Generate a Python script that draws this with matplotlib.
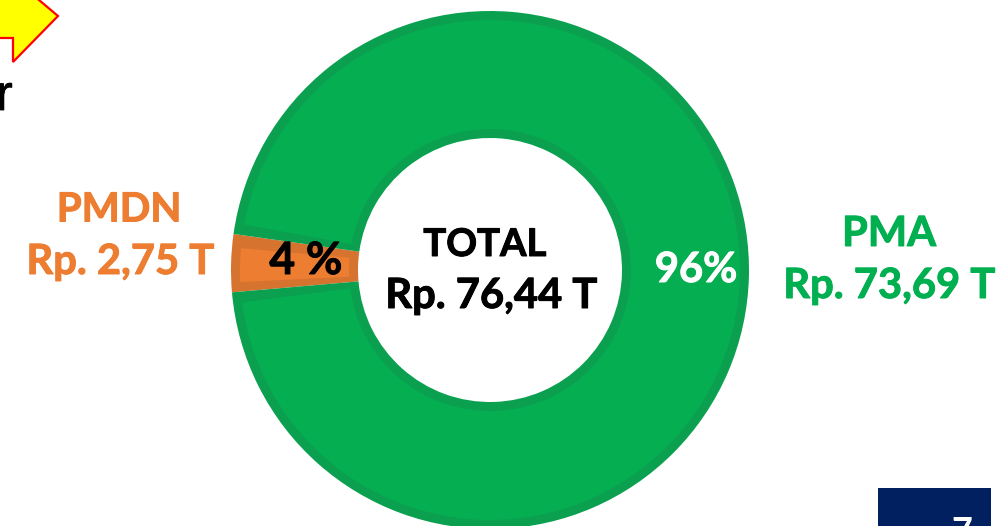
import matplotlib
matplotlib.use('Agg')
import matplotlib.pyplot as plt
import matplotlib.patches as patches
import matplotlib.patheffects as pe

# values in Rp trillion
categories = ['PMDN', 'PMA']
values = [2.75, 73.69]
shares = ['4 %', '96%']
amounts = ['Rp. 2,75 T', 'Rp. 73,69 T']
total_lines = ['TOTAL', 'Rp. 76,44 T']

W, H = 999, 526
ORANGE = '#ED7D31'
GREEN = '#00B050'
fam = ['Lato', 'DejaVu Sans']


def py(y):
    # reference pixels are measured from the top
    return H - y


def label(x, y, s, size, color):
    # thin stroke to get the heavier look of the original font
    ax.text(x, py(y), s, fontsize=size, family=fam, weight='bold', color=color, ha='center', va='center',
            path_effects=[pe.withStroke(linewidth=0.7, foreground=color)])


fig = plt.figure(figsize=(W / 100, H / 100), dpi=100)
ax = fig.add_axes([0, 0, 1, 1])

cx, cy, r_out, r_in = 490, py(270), 259, 132
start = 172

# darker base ring = the bevel edge
ax.pie(values, colors=['#D5732F', '#0AA04F'], startangle=start, center=(cx, cy),
       radius=r_out, wedgeprops=dict(width=r_out - r_in, linewidth=0), frame=True)

# lighter faces sitting inside the base ring
a1 = start + 360 * values[0] / sum(values)
bevel = 9
ax.add_patch(patches.Wedge((cx, cy), r_out - bevel, start + 3, a1 - 2.2, width=r_out - r_in - 2 * bevel,
                           fc=ORANGE, lw=0))
ax.add_patch(patches.Wedge((cx, cy), r_out - bevel, a1 + 2.5, start + 360 - 2.5,
                           width=r_out - r_in - 2 * bevel, fc='#05AE50', lw=0))

# arrow callout, cut off by the top left corner
ax.add_patch(patches.Polygon([(-5, py(-5)), (33, py(-5)), (58, py(16)), (13, py(62)), (13, py(38)), (-5, py(38))],
                             fc='#FFFF00', ec='#FF0000', lw=1.6, clip_on=True))
ax.text(-4, py(110), 'r', fontsize=36, family='Liberation Sans', color='black', ha='left', va='baseline',
        path_effects=[pe.withStroke(linewidth=0.6, foreground='black')])

# page number box
ax.add_patch(patches.Rectangle((878, py(526)), 113, 38, fc='#002060', lw=0))
ax.text(962, py(516), '7', fontsize=26, family=fam, weight='bold', color='white', ha='center', va='top')

label(119, 210, categories[0], 29, ORANGE)
label(120, 262, amounts[0], 30, ORANGE)
label(889, 234, categories[1], 30, GREEN)
label(889, 286, amounts[1], 30, GREEN)
label(485, 245, total_lines[0], 27.5, 'black')
label(491, 296, total_lines[1], 30, 'black')
label(306, 261, shares[0], 32, 'black')
label(696, 270, shares[1], 30, 'white')

ax.set_xlim(0, W)
ax.set_ylim(0, H)
ax.set_aspect('auto')
ax.axis('off')

fig.savefig('out.png', dpi=100, facecolor='white')
